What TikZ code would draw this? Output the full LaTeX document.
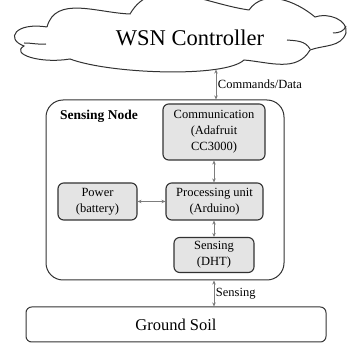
\documentclass[tikz,border=0pt]{standalone}
\usepackage{fontspec}
\setmainfont{Liberation Serif}
\usetikzlibrary{positioning,arrows.meta,calc}
\definecolor{snBorder}{RGB}{50,50,50}
\definecolor{snFill}{RGB}{228,228,228}
\definecolor{snArrow}{RGB}{125,125,125}
\tikzset{
    base/.style={align=center, font=\fontsize{12.5}{16}\selectfont},
    unit/.style={base, rectangle, rounded corners=2mm, draw=snBorder,
                 line width=1.1pt, fill=snFill, inner sep=0pt},
    container/.style={rectangle, rounded corners=6mm, draw=snBorder, line width=1pt},
    ground/.style={rectangle, rounded corners=2mm, draw=snBorder, line width=1pt,
                   font=\fontsize{16.5}{20}\selectfont},
    link/.style={{Stealth[length=4pt,width=3.5pt]}-{Stealth[length=4pt,width=3.5pt]},
                 line width=0.9pt, color=snArrow},
    tag/.style={base, inner sep=1.5pt, anchor=west, text=black}
}

\begin{document}
\begin{tikzpicture}[x=1pt,y=1pt]
  \useasboundingbox (0,0) rectangle (352,344);

  % Cloud (WSN controller)
  \draw[snBorder, line width=1pt] (47,317) to[out=75,in=178] (130,330)
    to[out=60,in=172] (249,334) to[out=55,in=140] (315,327)
    to[out=20,in=80] (346,311) to[out=-110,in=20] (310,294)
    to[out=-120,in=-5] (244,284)
    .. controls (225,266) and (110,270) .. (70,285)
    .. controls (40,280) and (10,290) .. (24,298)
    .. controls (5,305) and (15,322) .. (47,317);
  \draw[snBorder, line width=1pt] (46,300) to[out=185,in=0] (24,301);
  \draw[snBorder, line width=1pt] (333,311) to[out=0,in=-110] (346,318);
  \draw[snBorder, line width=1pt] (287,304) to[out=-5,in=120] (310,295);
  \node[font=\fontsize{22.5}{27}\selectfont] (ctrl) at (190,306) {WSN Controller};
  \coordinate (cloudBot) at (216,274.5);

  % Sensing node and its parts
  \node[container, minimum width=238pt, minimum height=180pt] (snode) at (165,154) {};
  \node[base, font=\fontsize{13.5}{16}\selectfont\bfseries, anchor=west, inner sep=0pt]
    (snTitle) at (60,228) {Sensing Node};
  \node[unit, minimum width=102pt, minimum height=56pt] (comm) at (214,212)
    {Communication\\(Adafruit\\CC3000)};
  \node[unit, minimum width=97pt, minimum height=37pt] (proc) at (214.5,142.5)
    {Processing unit\\(Arduino)};
  \node[unit, minimum width=79pt, minimum height=37pt] (power) at (97.5,142.5)
    {Power\\(battery)};
  \node[unit, minimum width=80pt, minimum height=35pt] (sense) at (214,89)
    {Sensing\\(DHT)};

  % Ground
  \node[ground, minimum width=300pt, minimum height=35pt] (soil) at (176,19.5) {Ground Soil};

  % Links
  \draw[link] (snode.north -| cloudBot) -- (cloudBot) node[tag, pos=0.5] {Commands/Data};
  \draw[link] (comm.south -| sense) -- (proc.north -| sense);
  \draw[link] (power) -- (proc);
  \draw[link] (proc.south -| sense) -- (sense.north);
  \draw[link] (snode.south -| sense) -- (soil.north -| sense) node[tag, pos=0.5] {Sensing};
\end{tikzpicture}
\end{document}
